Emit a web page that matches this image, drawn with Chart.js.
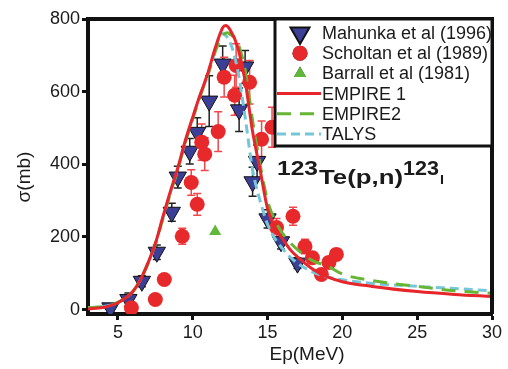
<!DOCTYPE html>
<html>
<head>
<meta charset="utf-8">
<script src="https://cdn.jsdelivr.net/npm/chart.js@4.4.1/dist/chart.umd.min.js"></script>
<style>
    html, body { margin: 0; padding: 0; background: #fff; }
    #wrap { width: 508px; height: 369px; position: relative; }
</style>
</head>
<body>
<div id="wrap"><canvas id="xs-chart" width="508" height="369"></canvas></div>
<script>
// 123Te(p,n)123I excitation function

const X_TICKS = [5, 10, 15, 20, 25, 30];
const Y_TICKS = [0, 200, 400, 600, 800];

// Mahunka et al (1996)
const mahunkaE = [4.5, 5.7, 6.6, 7.6, 8.6, 9.0, 9.8, 10.3, 11.1, 12.0, 13.5, 13.1, 14.3, 14.0, 15.0, 15.9, 17.0];
const mahunkaSigma = [5, 28, 78, 158, 268, 365, 436, 488, 574, 676, 668, 550, 408, 352, 250, 187, 128];
const mahunkaErr = [8, 18, 15, 20, 25, 30, 35, 40, 70, 50, 45, 60, 45, 40, 25, 20, 15];

// Scholtan et al (1989)
const scholtanE = [5.9, 7.5, 8.1, 9.3, 10.3, 9.9, 10.6, 10.8, 11.7, 12.1, 12.9, 12.8, 13.8, 14.6, 15.3, 15.6, 16.7, 17.5, 18.0, 18.6, 19.1, 19.6];
const scholtanSigma = [5, 28, 83, 202, 290, 350, 461, 428, 490, 640, 672, 590, 626, 469, 502, 226, 257, 174, 143, 97, 130, 152];
const scholtanErr = [0, 0, 0, 22, 30, 35, 50, 45, 55, 55, 60, 55, 60, 50, 55, 25, 25, 20, 15, 10, 15, 15];

// Barrall et al (1981)
const barrallE = [11.5];
const barrallSigma = [215];

// EMPIRE 1
const empire1E = [3, 4, 4.5, 5, 5.5, 6, 6.5, 7, 7.5, 8, 8.5, 9, 9.5, 10, 10.5, 11, 11.5, 12, 12.2, 12.5, 13, 13.5, 14, 14.5, 15, 15.5, 16, 16.5, 17, 18, 19, 20, 22, 25, 27.5, 30];
const empire1Sigma = [2, 6, 11, 19, 32, 50, 82, 128, 182, 255, 325, 390, 465, 530, 592, 650, 720, 776, 782, 770, 723, 629, 490, 385, 278, 225, 195, 166, 145, 112, 90, 77, 64, 50, 42, 36];

// EMPIRE2
const empire2E = [3, 4, 4.5, 5, 5.5, 6, 6.5, 7, 7.5, 8, 8.5, 9, 9.5, 10, 10.5, 11, 11.5, 12, 12.3, 12.5, 13, 13.5, 14, 14.5, 15, 15.5, 16, 16.5, 17, 18, 19, 20, 22, 25, 27.5, 30];
const empire2Sigma = [5, 8, 12, 20, 32, 50, 82, 126, 180, 250, 320, 385, 460, 525, 588, 645, 710, 755, 762, 758, 735, 660, 520, 400, 300, 245, 210, 185, 165, 135, 120, 98, 80, 64, 52, 45];

// TALYS
const talysE = [3, 4, 4.5, 5, 5.5, 6, 6.5, 7, 7.5, 8, 8.5, 9, 9.5, 10, 10.5, 11, 11.5, 11.9, 12.5, 13, 13.5, 14, 14.5, 15, 15.5, 16, 16.5, 17, 18, 19, 20, 22, 25, 27.5, 30];
const talysSigma = [5, 8, 12, 20, 32, 50, 82, 126, 180, 250, 320, 388, 462, 528, 590, 645, 712, 760, 735, 660, 530, 385, 300, 235, 195, 168, 145, 128, 104, 90, 82, 72, 64, 58, 52];

const FONT = "'Liberation Sans', Arial, sans-serif";
const INK = '#1a1a1a';

function pts(xs, ys) {
    return xs.map((x, i) => ({ x: x, y: ys[i] }));
}

// --- Plugins ---

const errorBars = {
    id: 'errorBars',
    beforeDatasetsDraw(chart) {
        const { ctx, scales: { x, y } } = chart;
        ctx.save();
        chart.data.datasets.forEach(ds => {
            if (!ds.errors) return;
            ctx.strokeStyle = ds.errorColor;
            ctx.lineWidth = 1.5;
            ds.data.forEach((p, i) => {
                const e = ds.errors[i];
                if (!e) return;
                const px = x.getPixelForValue(p.x);
                const top = y.getPixelForValue(p.y + e);
                const bot = y.getPixelForValue(p.y - e);
                ctx.beginPath();
                ctx.moveTo(px, top); ctx.lineTo(px, bot);
                ctx.moveTo(px - 4, top); ctx.lineTo(px + 4, top);
                ctx.moveTo(px - 4, bot); ctx.lineTo(px + 4, bot);
                ctx.stroke();
            });
        });
        ctx.restore();
    },
};

function drawStretched(ctx, text, x, base, font, width) {
    ctx.save();
    ctx.font = font;
    const w = ctx.measureText(text).width;
    ctx.translate(x, base);
    ctx.scale(width / w, 1);
    ctx.fillText(text, 0, 0);
    ctx.restore();
}

const decorations = {
    id: 'decorations',
    afterDraw(chart) {
        const { ctx, chartArea: a } = chart;
        ctx.save();

        // frame top / right
        ctx.strokeStyle = '#111';
        ctx.lineWidth = 4;
        ctx.beginPath();
        ctx.moveTo(a.left, a.top);
        ctx.lineTo(a.right, a.top);
        ctx.lineTo(a.right, a.bottom);
        ctx.stroke();

        // legend box
        const lx = 275, ly = a.top, lw = a.right - 275, lh = 127;
        ctx.fillStyle = '#fff';
        ctx.fillRect(lx, ly, lw, lh);
        ctx.lineWidth = 3;
        ctx.strokeRect(lx, ly, lw, lh);

        ctx.font = '18px ' + FONT;
        ctx.textBaseline = 'middle';
        chart.data.datasets.forEach((ds, i) => {
            const cy = ly + 14 + i * 20.2;
            if (ds.showLine) {
                ctx.save();
                ctx.strokeStyle = ds.borderColor;
                ctx.lineWidth = ds.borderWidth;
                ctx.setLineDash(ds.borderDash || []);
                ctx.beginPath();
                ctx.moveTo(lx + 2, cy);
                ctx.lineTo(lx + 46, cy);
                ctx.stroke();
                ctx.restore();
            } else {
                Chart.helpers.drawPoint(ctx, {
                    pointStyle: ds.pointStyle,
                    rotation: ds.rotation || 0,
                    radius: ds.legendRadius,
                    borderWidth: ds.borderWidth,
                }, lx + 25, cy);
                ctx.fillStyle = ds.backgroundColor;
                ctx.strokeStyle = ds.borderColor;
                ctx.lineWidth = ds.borderWidth;
                ctx.fill();
                if (ds.borderWidth) ctx.stroke();
            }
            ctx.fillStyle = INK;
            ctx.fillText(ds.label, lx + 47, cy + 1);
        });

        // reaction label
        ctx.fillStyle = INK;
        ctx.textBaseline = 'alphabetic';
        drawStretched(ctx, '123', 277, 175, 'bold 20px ' + FONT, 41);
        drawStretched(ctx, 'Te(p,n)', 319, 184, 'bold 21px ' + FONT, 84);
        drawStretched(ctx, '123', 403, 175, 'bold 20px ' + FONT, 36);
        drawStretched(ctx, 'I', 440, 184, 'bold 12px ' + FONT, 4);

        // axis titles
        ctx.font = '19px ' + FONT;
        ctx.textAlign = 'center';
        ctx.textBaseline = 'middle';
        ctx.fillText('Ep(MeV)', 307, 355);
        ctx.translate(25, 177);
        ctx.rotate(-Math.PI / 2);
        ctx.fillText('σ(mb)', 0, 0);
        ctx.restore();
    },
};

// --- Chart ---

const tickFont = { family: FONT, size: 18 };
const gridOpts = {
    drawOnChartArea: false,
    drawTicks: true,
    tickLength: 6,
    tickWidth: 3,
    tickColor: '#111',
};

new Chart(document.getElementById('xs-chart'), {
    type: 'scatter',
    data: {
        datasets: [
            {
                label: 'Mahunka et al (1996)',
                data: pts(mahunkaE, mahunkaSigma),
                errors: mahunkaErr,
                errorColor: '#222',
                pointStyle: 'triangle',
                rotation: 180,
                pointRadius: 10,
                legendRadius: 10,
                backgroundColor: '#3c3f96',
                borderColor: '#111',
                borderWidth: 1,
                order: 3,
            },
            {
                label: 'Scholtan et al (1989)',
                data: pts(scholtanE, scholtanSigma),
                errors: scholtanErr,
                errorColor: '#f0474a',
                pointStyle: 'circle',
                pointRadius: 7.5,
                legendRadius: 7.5,
                backgroundColor: '#e8292b',
                borderColor: '#e8292b',
                borderWidth: 0,
                order: 2,
            },
            {
                label: 'Barrall et al (1981)',
                data: pts(barrallE, barrallSigma),
                pointStyle: 'triangle',
                pointRadius: 7,
                legendRadius: 7,
                backgroundColor: '#5fb838',
                borderColor: '#5fb838',
                borderWidth: 0,
                order: 2,
            },
            {
                label: 'EMPIRE 1',
                data: pts(empire1E, empire1Sigma),
                showLine: true,
                pointRadius: 0,
                borderColor: '#e6262a',
                borderWidth: 3,
                cubicInterpolationMode: 'monotone',
                order: 0,
            },
            {
                label: 'EMPIRE2',
                data: pts(empire2E, empire2Sigma),
                showLine: true,
                pointRadius: 0,
                borderColor: '#66b534',
                borderWidth: 3,
                borderDash: [14, 9],
                cubicInterpolationMode: 'monotone',
                order: 1,
            },
            {
                label: 'TALYS',
                data: pts(talysE, talysSigma),
                showLine: true,
                pointRadius: 0,
                borderColor: '#74c6d8',
                borderWidth: 3,
                borderDash: [9, 5],
                cubicInterpolationMode: 'monotone',
                order: 1,
            },
        ],
    },
    options: {
        responsive: false,
        animation: false,
        layout: { padding: { top: 19, right: 16, left: 0, bottom: 0 } },
        plugins: {
            legend: { display: false },
            tooltip: { enabled: false },
        },
        scales: {
            x: {
                type: 'linear',
                min: 3,
                max: 30,
                afterBuildTicks: s => { s.ticks = X_TICKS.map(v => ({ value: v })); },
                afterFit: s => { s.height = 55; },
                ticks: { font: tickFont, color: INK, padding: 2 },
                grid: gridOpts,
                border: { display: true, width: 4, color: '#111' },
            },
            y: {
                type: 'linear',
                min: -12,
                max: 800,
                afterBuildTicks: s => { s.ticks = Y_TICKS.map(v => ({ value: v })); },
                afterFit: s => { s.width = 88; },
                ticks: { font: tickFont, color: INK, padding: 2 },
                grid: gridOpts,
                border: { display: true, width: 4, color: '#111' },
            },
        },
    },
    plugins: [errorBars, decorations],
});
</script>
</body>
</html>
